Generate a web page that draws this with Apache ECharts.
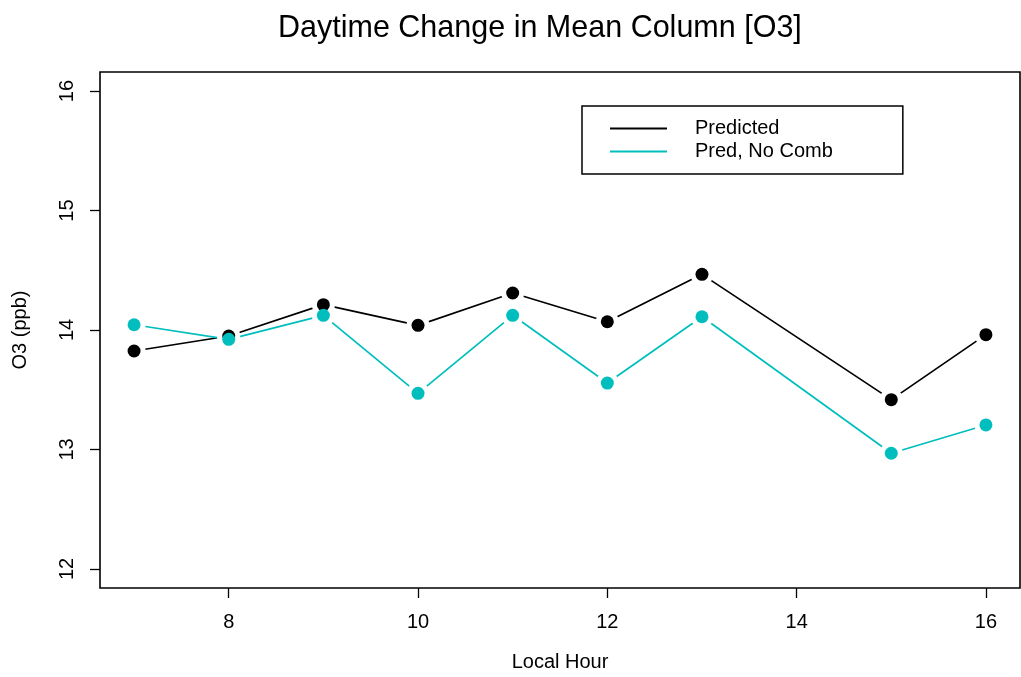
<!DOCTYPE html>
<html>
<head>
<meta charset="utf-8">
<title>Daytime Change in Mean Column [O3]</title>
<script src="https://cdn.jsdelivr.net/npm/echarts@6/dist/echarts.min.js"></script>
<style>
  html, body { margin: 0; padding: 0; background: #fff; }
  #chart { width: 1021px; height: 677px; }
</style>
</head>
<body>
<div id="chart"></div>
<script>
// Local hour of each observation
const hours = [7, 8, 9, 10, 11, 12, 13, 15, 16];
// Mean column O3 (ppb)
const predicted = [13.824, 13.950, 14.212, 14.039, 14.310, 14.069, 14.466, 13.417, 13.961];
const predNoComb = [14.044, 13.922, 14.123, 13.470, 14.123, 13.556, 14.111, 12.968, 13.205];
// Tick values
const xTicks = [8, 10, 12, 14, 16];
const yTicks = [12, 13, 14, 15, 16];

const seriesNames = ['Predicted', 'Pred, No Comb'];
const seriesColors = ['#000000', '#00BEBE'];
const seriesValues = [predicted, predNoComb];

const FONT = '"Liberation Sans", Arial, Helvetica, sans-serif';

const pairs = vals => hours.map((h, i) => [h, vals[i]]);

const series = [];
// connecting lines
seriesValues.forEach((vals, k) => {
  series.push({
    name: seriesNames[k],
    type: 'line',
    data: pairs(vals),
    showSymbol: false,
    symbol: 'none',
    lineStyle: { color: seriesColors[k], width: 1.7 },
    itemStyle: { color: seriesColors[k] },
    z: 2,
    silent: true
  });
});
// white halos leave a small gap between lines and points
seriesValues.forEach((vals, k) => {
  series.push({
    name: seriesNames[k] + ' gap',
    type: 'scatter',
    data: pairs(vals),
    symbol: 'circle',
    symbolSize: 23,
    itemStyle: { color: '#ffffff', opacity: 1 },
    z: 3,
    silent: true
  });
});
// points
seriesValues.forEach((vals, k) => {
  series.push({
    name: seriesNames[k] + ' pts',
    type: 'scatter',
    data: pairs(vals),
    symbol: 'circle',
    symbolSize: 13,
    itemStyle: { color: seriesColors[k], opacity: 1 },
    z: 4,
    silent: true
  });
});

const chart = echarts.init(document.getElementById('chart'), null, { renderer: 'canvas' });
chart.setOption({
  animation: false,
  backgroundColor: '#ffffff',
  textStyle: { fontFamily: FONT },
  title: {
    text: 'Daytime Change in Mean Column [O3]',
    left: 273,
    top: 8,
    textStyle: { fontFamily: FONT, fontSize: 30.5, fontWeight: 'normal', color: '#000' }
  },
  legend: {
    data: seriesNames,
    orient: 'vertical',
    left: 582,
    top: 106,
    padding: [11, 70, 11, 28],
    itemGap: 0,
    itemWidth: 57,
    itemHeight: 2,
    icon: 'rect',
    borderColor: '#000',
    borderWidth: 1.5,
    textStyle: { fontFamily: FONT, fontSize: 20, color: '#000', lineHeight: 20, padding: [3, 0, 0, 23] }
  },
  grid: {
    left: 100, right: 1, top: 72, bottom: 89,
    show: true, borderColor: '#000', borderWidth: 1.6, backgroundColor: 'transparent'
  },
  xAxis: {
    type: 'value',
    min: 6.64, max: 16.36,
    name: 'Local Hour',
    nameLocation: 'middle',
    nameGap: 64,
    nameTextStyle: { fontFamily: FONT, fontSize: 20, color: '#000' },
    axisLine: { show: false },
    splitLine: { show: false },
    axisTick: { show: true, length: 10, customValues: xTicks, lineStyle: { color: '#000', width: 1.3 } },
    axisLabel: { customValues: xTicks, margin: 24, fontFamily: FONT, fontSize: 20, color: '#000' }
  },
  yAxis: {
    type: 'value',
    min: 11.84, max: 16.16,
    name: 'O3 (ppb)',
    nameLocation: 'middle',
    nameGap: 70,
    nameRotate: 90,
    nameTextStyle: { fontFamily: FONT, fontSize: 20, color: '#000' },
    axisLine: { show: false },
    splitLine: { show: false },
    axisTick: { show: true, length: 10, customValues: yTicks, lineStyle: { color: '#000', width: 1.3 } },
    axisLabel: { customValues: yTicks, rotate: 90, margin: 23, fontFamily: FONT, fontSize: 20, color: '#000' }
  },
  series: series
});
</script>
</body>
</html>
